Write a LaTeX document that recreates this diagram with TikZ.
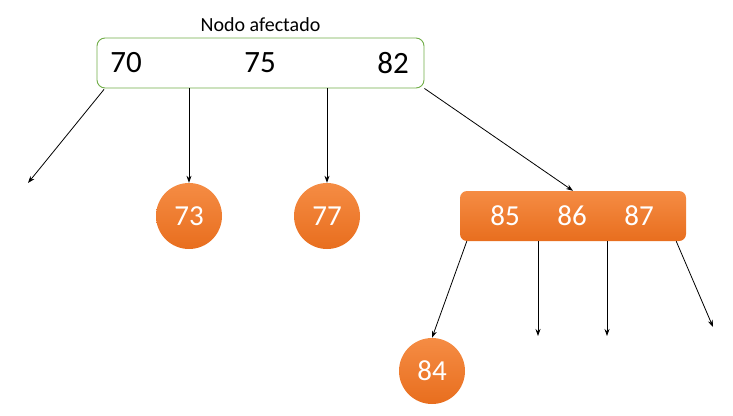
\documentclass[tikz,border=0pt]{standalone}
\usepackage{fontspec}
\setmainfont{Carlito}
\usetikzlibrary{positioning,arrows.meta,calc}
\definecolor{NodeGreen}{RGB}{112,173,71}
\definecolor{OrangeTop}{RGB}{245,140,68}
\definecolor{OrangeBot}{RGB}{232,110,30}
\tikzset{
  flow/.style={-{Stealth[length=7pt,width=5pt]},line width=0.8pt,draw=black},
  mainbox/.style={draw=NodeGreen,line width=0.9pt,fill=white,rounded corners=8pt,
    minimum width=327pt,minimum height=50pt},
  orangebox/.style={top color=OrangeTop,bottom color=OrangeBot,draw=none,rounded corners=7pt,
    minimum width=226pt,minimum height=50pt},
  keynode/.style={circle,top color=OrangeTop,bottom color=OrangeBot,draw=none,
    minimum size=66pt,inner sep=0pt,text=white,font=\fontsize{29}{33}\selectfont},
  mainkey/.style={inner sep=0pt,font=\fontsize{31}{35}\selectfont},
  subkey/.style={inner sep=0pt,text=white,font=\fontsize{29}{33}\selectfont}
}

\begin{document}
\begin{tikzpicture}[x=1pt,y=-1pt]
  \useasboundingbox (0,0) rectangle (733,415);
  \node[mainbox] (main) at (260.5,63) {};
  \node[above=6pt of main,inner sep=0pt,font=\fontsize{20}{24}\selectfont] (title) {Nodo afectado};
  \node[mainkey] (k70) at (126,63) {70};
  \node[mainkey] (k75) at (260,63) {75};
  \node[mainkey] (k82) at (393,63) {82};

  \node[keynode] (c73) at (189,216) {73};
  \node[keynode] (c77) at (327,216) {77};
  \node[orangebox] (right) at (573,216) {};
  \node[subkey] (k85) at (505,216) {85};
  \node[subkey] (k86) at (572,216) {86};
  \node[subkey] (k87) at (639,216) {87};
  \node[keynode] (c84) at (432,371) {84};

  \coordinate (leftend) at (28,183);
  \coordinate (end1) at (538,336);
  \coordinate (end2) at (607,336);
  \coordinate (end3) at (713,327);

  \draw[flow] ([xshift=-156.5pt,yshift=-1pt]main.south) -- (leftend);
  \draw[flow] ([xshift=-71.5pt]main.south) -- (c73.north);
  \draw[flow] ([xshift=66.5pt]main.south) -- (c77.north);
  \draw[flow] (main.south east) -- (right.north);

  \draw[flow] ([xshift=7pt]right.south west) -- (c84.north);
  \draw[flow] ([xshift=-35pt]right.south) -- (end1);
  \draw[flow] ([xshift=34pt]right.south) -- (end2);
  \draw[flow] ([xshift=-10pt]right.south east) -- (end3);
\end{tikzpicture}
\end{document}
